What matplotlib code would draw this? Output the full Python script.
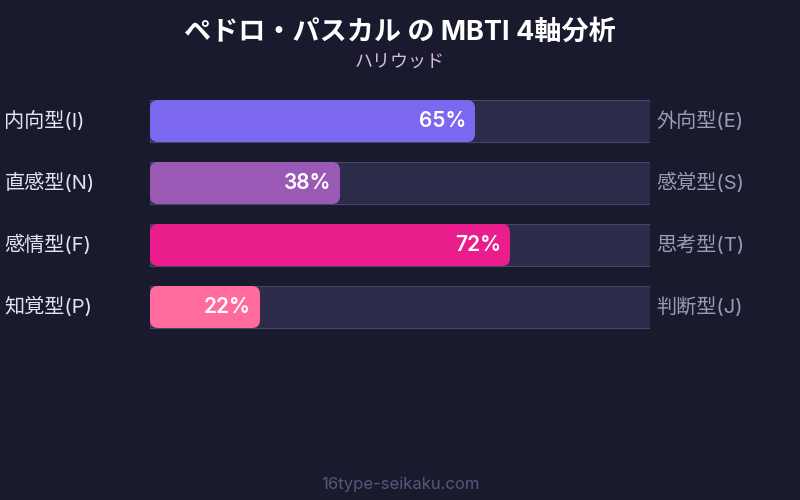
import matplotlib
matplotlib.use("Agg")
import matplotlib.pyplot as plt
from matplotlib.patches import FancyBboxPatch, Rectangle

plt.rcParams['font.family'] = ['Inter', 'Noto Sans CJK JP', 'DejaVu Sans']

# data
left_labels = ['内向型(I)', '直感型(N)', '感情型(F)', '知覚型(P)']
right_labels = ['外向型(E)', '感覚型(S)', '思考型(T)', '判断型(J)']
values = [65, 38, 72, 22]
colors = ['#7b68ee', '#9b59b6', '#e91e8c', '#ff6b9d']

bg = '#1a1a2e'
fig = plt.figure(figsize=(8, 5), dpi=100, facecolor=bg)
ax = fig.add_axes([0.1875, 0.324, 0.625, 0.496])
ax.set_facecolor(bg)
ax.set_xlim(0, 100)
ax.set_ylim(3.5, -0.5)
ax.axis('off')

bar_h = 42 / 62
# 5 px per x unit, 62 px per y unit
aspect = 5 / 62

for i, (v, c) in enumerate(zip(values, colors)):
    ax.add_patch(Rectangle((0, i - bar_h / 2), 100, bar_h, facecolor='#2d2b4a',
                           edgecolor='#46466a', linewidth=0.8))
    ax.add_patch(FancyBboxPatch((0, i - bar_h / 2), v, bar_h,
                                boxstyle='round,pad=0,rounding_size=1.6',
                                mutation_aspect=aspect, facecolor=c, edgecolor='none'))
    ax.text(v - 1.8, i, f'{v}%', ha='right', va='center', color='white',
            fontsize=15, fontweight='semibold')
    ax.text(-29.1, i, left_labels[i], ha='left', va='center', color='#e4e4f0',
            fontsize=14.5, clip_on=False)
    ax.text(101.3, i, right_labels[i], ha='left', va='center', color='#9a9ab2',
            fontsize=14.5, clip_on=False)

fig.text(0.5, 1 - 33 / 500, 'ペドロ・パスカル の MBTI 4軸分析', ha='center', va='center',
         color='white', fontsize=19.5, fontweight='bold')
fig.text(0.5, 1 - 62 / 500, 'ハリウッド', ha='center', va='center',
         color='#d8b8e0', fontsize=13)
fig.text(0.5, 1 - 484 / 500, '16type-seikaku.com', ha='center', va='center',
         color='#56567a', fontsize=12)

fig.savefig('out.png', dpi=100, facecolor=bg)
